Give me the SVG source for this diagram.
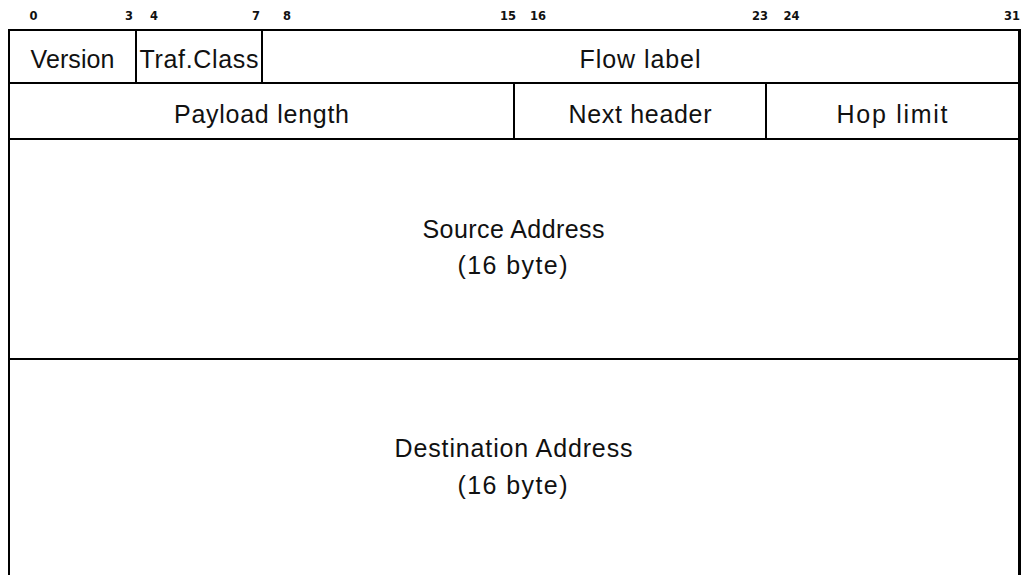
<svg xmlns="http://www.w3.org/2000/svg" width="1024" height="575" viewBox="0 0 1024 575">
  <style>
    .rule { stroke: #000; stroke-width: 2; fill: none; }
    .edge { stroke: #000; stroke-width: 3; fill: none; }
    .bit { font-family: "DejaVu Sans", Verdana, sans-serif; font-weight: bold; font-size: 11.5px; fill: #111; text-anchor: middle; }
    .field { font-family: "Liberation Sans", Arial, sans-serif; font-size: 25px; fill: #111; text-anchor: middle; }
  </style>
  <rect width="1024" height="575" fill="#fff"/>

  <!-- bit offsets above the header -->
  <g id="bit-ruler">
    <text class="bit" x="33.5" y="19.5">0</text>
    <text class="bit" x="129" y="19.5">3</text>
    <text class="bit" x="154" y="19.5">4</text>
    <text class="bit" x="256" y="19.5">7</text>
    <text class="bit" x="287" y="19.5">8</text>
    <text class="bit" x="508" y="19.5">15</text>
    <text class="bit" x="538" y="19.5">16</text>
    <text class="bit" x="760" y="19.5">23</text>
    <text class="bit" x="791.5" y="19.5">24</text>
    <text class="bit" x="1012" y="19.5">31</text>
  </g>

  <!-- header outline and field dividers -->
  <g id="grid">
    <path class="rule" d="M9 575 V30 H1018"/>
    <path class="edge" d="M1019.5 29 V575"/>
    <path class="rule" d="M9 83 H1018"/>
    <path class="rule" d="M9 139 H1018"/>
    <path class="rule" d="M9 359 H1018"/>
    <path class="rule" d="M136 30 V83"/>
    <path class="rule" d="M262 30 V83"/>
    <path class="rule" d="M514 83 V139"/>
    <path class="rule" d="M766 83 V139"/>
  </g>

  <g id="version">
    <text class="field" x="72.5" y="68" textLength="84" lengthAdjust="spacing">Version</text>
  </g>
  <g id="traffic-class">
    <text class="field" x="199" y="68" textLength="119" lengthAdjust="spacing">Traf.Class</text>
  </g>
  <g id="flow-label">
    <text class="field" x="640" y="68" textLength="121" lengthAdjust="spacing">Flow label</text>
  </g>
  <g id="payload-length">
    <text class="field" x="261.5" y="123" textLength="175" lengthAdjust="spacing">Payload length</text>
  </g>
  <g id="next-header">
    <text class="field" x="640" y="123" textLength="143" lengthAdjust="spacing">Next header</text>
  </g>
  <g id="hop-limit">
    <text class="field" x="892" y="123" textLength="111" lengthAdjust="spacing">Hop limit</text>
  </g>
  <g id="source-address">
    <text class="field" x="513.5" y="237.5" textLength="182" lengthAdjust="spacing">Source Address</text>
    <text class="field" x="512.5" y="274" textLength="110" lengthAdjust="spacing">(16 byte)</text>
  </g>
  <g id="destination-address">
    <text class="field" x="513.5" y="457" textLength="238" lengthAdjust="spacing">Destination Address</text>
    <text class="field" x="512.5" y="494" textLength="110" lengthAdjust="spacing">(16 byte)</text>
  </g>
</svg>
